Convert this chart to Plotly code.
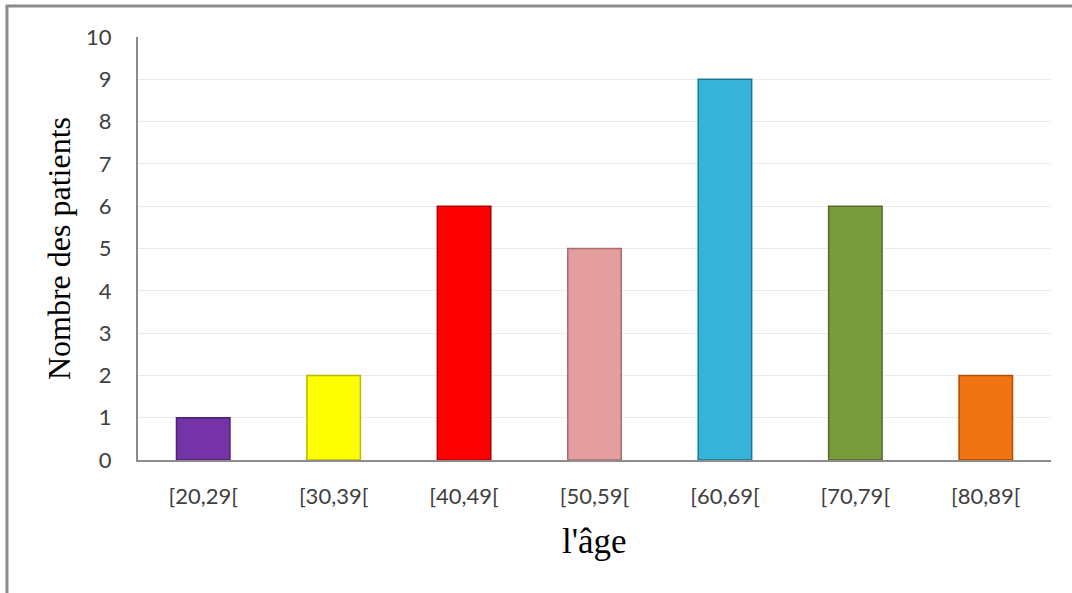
import plotly.graph_objects as go

categories = ["[20,29[", "[30,39[", "[40,49[", "[50,59[", "[60,69[", "[70,79[", "[80,89["]
patients = [1, 2, 6, 5, 9, 6, 2]
bar_colors = ["#7433A6", "#FFFF00", "#FF0000", "#E49E9E", "#35B3D9", "#7A9A3E", "#F07412"]
edge_colors = ["#4F2174", "#B8B800", "#B00000", "#A86E6E", "#1F7891", "#556B2B", "#A84F0A"]
y_ticks = list(range(0, 11))

fig = go.Figure()
fig.add_trace(go.Bar(
    x=categories, y=patients,
    marker=dict(color=bar_colors, line=dict(color=edge_colors, width=1.5)),
    width=0.41, showlegend=False,
))

fig.update_layout(
    width=1072, height=593,
    margin=dict(l=138, r=21, t=37, b=133),
    paper_bgcolor="white", plot_bgcolor="white",
    xaxis=dict(
        showline=True, linecolor="#8C8C8C", linewidth=2,
        tickfont=dict(family="Lato, Liberation Sans, sans-serif", size=22, color="#404040"),
        ticks="outside", ticklen=16, tickcolor="rgba(0,0,0,0)",
        showgrid=False,
    ),
    yaxis=dict(
        range=[0, 10], tickvals=y_ticks,
        showline=True, linecolor="#8C8C8C", linewidth=2,
        showgrid=True, gridcolor="#EBEBEB", gridwidth=1,
        tickfont=dict(family="Lato, Liberation Sans, sans-serif", size=22, color="#404040"),
        ticks="outside", ticklen=20, tickcolor="rgba(0,0,0,0)",
        zeroline=False,
    ),
    annotations=[
        dict(text="Nombre des patients", xref="paper", yref="paper",
             x=-0.087, y=0.5, textangle=-90, showarrow=False,
             font=dict(family="Liberation Serif, Times New Roman, serif", size=32, color="#000000"),
             xanchor="center", yanchor="middle"),
        dict(text="l'âge", xref="paper", yref="paper",
             x=0.5, y=-0.193, showarrow=False,
             font=dict(family="Liberation Serif, Times New Roman, serif", size=35, color="#000000"),
             xanchor="center", yanchor="middle"),
    ],
    shapes=[
        dict(type="line", xref="paper", yref="paper", x0=-0.1435, x1=-0.1435, y0=1.074, y1=-0.40,
             line=dict(color="#8C8C8C", width=3)),
        dict(type="line", xref="paper", yref="paper", x0=-0.1451, x1=1.1, y0=1.0733, y1=1.0733,
             line=dict(color="#8C8C8C", width=3)),
    ],
)

fig.write_html("out.html")
